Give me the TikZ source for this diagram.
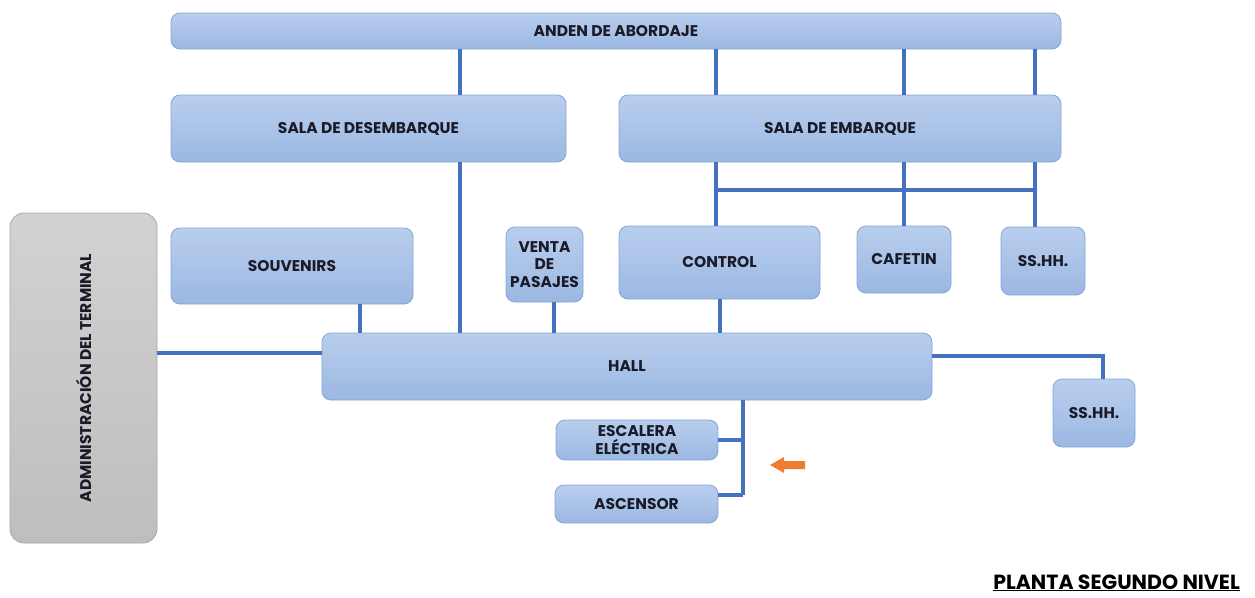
\documentclass[tikz,border=0pt]{standalone}
\usepackage{fontspec}
\setmainfont{Poppins}
\usetikzlibrary{calc}
\definecolor{boxtop}{HTML}{B9CEEE}
\definecolor{boxbot}{HTML}{9BB8E2}
\definecolor{boxline}{HTML}{86A5D6}
\definecolor{conncol}{HTML}{4671BF}
\definecolor{graytop}{HTML}{D2D2D2}
\definecolor{graybot}{HTML}{BEBEBE}
\definecolor{grayline}{HTML}{A8A8A8}
\definecolor{orangearrow}{HTML}{EE7D30}
\definecolor{txt}{HTML}{1A1A28}
\tikzset{
  box/.style={draw=boxline, line width=0.8pt, top color=boxtop, bottom color=boxbot,
    rounded corners=9pt, inner sep=0pt, align=center, text=txt,
    font=\bfseries\fontsize{15.5}{17.5}\selectfont},
  graybox/.style={box, draw=grayline, top color=graytop, bottom color=graybot, rounded corners=14pt},
  conn/.style={draw=conncol, line width=3.2pt}
}
\begin{document}
\begin{tikzpicture}[x=1pt,y=-1pt]
\useasboundingbox[fill=white] (0,0) rectangle (1255,597);
% boxes
\node[box, minimum width=890pt, minimum height=36pt] (anden) at (616,31) {ANDEN DE ABORDAJE};
\node[box, minimum width=395pt, minimum height=67pt] (desemb) at (368.5,128.5) {SALA DE DESEMBARQUE};
\node[box, minimum width=442pt, minimum height=67pt] (embar) at (840,128.5) {SALA DE EMBARQUE};
\node[box, minimum width=242pt, minimum height=76pt] (souv) at (292,266) {SOUVENIRS};
\node[box, minimum width=77pt, minimum height=75pt] (venta) at (544.5,264.5) {VENTA\\DE\\PASAJES};
\node[box, minimum width=201pt, minimum height=73pt] (control) at (719.5,262.5) {CONTROL};
\node[box, minimum width=94pt, minimum height=67pt] (cafe) at (904,259.5) {CAFETIN};
\node[box, minimum width=84pt, minimum height=68pt] (ssa) at (1043,261) {SS.HH.};
\node[box, minimum width=610pt, minimum height=67pt] (hall) at (627,366.5) {HALL};
\node[box, minimum width=82pt, minimum height=68pt] (ssb) at (1094,413) {SS.HH.};
\node[box, minimum width=162pt, minimum height=40pt] (esc) at (637,440) {ESCALERA\\ELÉCTRICA};
\node[box, minimum width=163pt, minimum height=38pt] (asc) at (636.5,504) {ASCENSOR};
\node[graybox, minimum width=147pt, minimum height=330pt] (admin) at (83.5,378) {};
\node[rotate=90, text=txt, font=\bfseries\fontsize{15.5}{17}\selectfont] (admintxt) at (admin.center) {ADMINISTRACIÓN DEL TERMINAL};
% helper coordinates
\coordinate (x360) at (360,0);
\coordinate (x460) at (460,0);
\coordinate (x554) at (554,0);
\coordinate (x716) at (716,0);
\coordinate (x720) at (720,0);
\coordinate (x743) at (743,0);
\coordinate (x904) at (904,0);
\coordinate (x1035) at (1035,0);
\coordinate (x1103) at (1103,0);
\coordinate (y190) at (0,190);
\coordinate (y353) at (0,353);
\coordinate (y356) at (0,356);
\coordinate (y495) at (0,495);
% connectors
\draw[conn] (anden.south -| x460) -- (desemb.north -| x460);
\draw[conn] (anden.south -| x716) -- (embar.north -| x716);
\draw[conn] (anden.south -| x904) -- (embar.north -| x904);
\draw[conn] (anden.south -| x1035) -- (embar.north -| x1035);
\draw[conn] (desemb.south -| x460) -- (hall.north -| x460);
\draw[conn] (embar.south -| x716) -- (control.north -| x716);
\draw[conn] (embar.south -| x904) -- (cafe.north -| x904);
\draw[conn] (embar.south -| x1035) -- (ssa.north -| x1035);
\draw[conn] (x716 |- y190) -- (x1035 |- y190);
\draw[conn] (souv.south -| x360) -- (hall.north -| x360);
\draw[conn] (venta.south -| x554) -- (hall.north -| x554);
\draw[conn] (control.south -| x720) -- (hall.north -| x720);
\draw[conn] (admin.east |- y353) -- (hall.west |- y353);
\draw[conn] (hall.east |- y356) -- (x1103 |- y356) -- (ssb.north -| x1103);
\draw[conn] (hall.south -| x743) -- (x743 |- y495);
\draw[conn] (esc.east) -- (esc.east -| x743);
\draw[conn] (asc.east |- y495) -- (x743 |- y495);
% orange arrow
\fill[orangearrow] (770,465) -- (784,457) -- (784,461) -- (805,461) -- (805,469) -- (784,469) -- (784,473) -- cycle;
% title
\node[anchor=base east, text=black, font=\fontsize{20.5}{23}\selectfont\bfseries, inner sep=0pt] (title) at (1240,589) {\underline{PLANTA SEGUNDO NIVEL}};
\end{tikzpicture}
\end{document}
